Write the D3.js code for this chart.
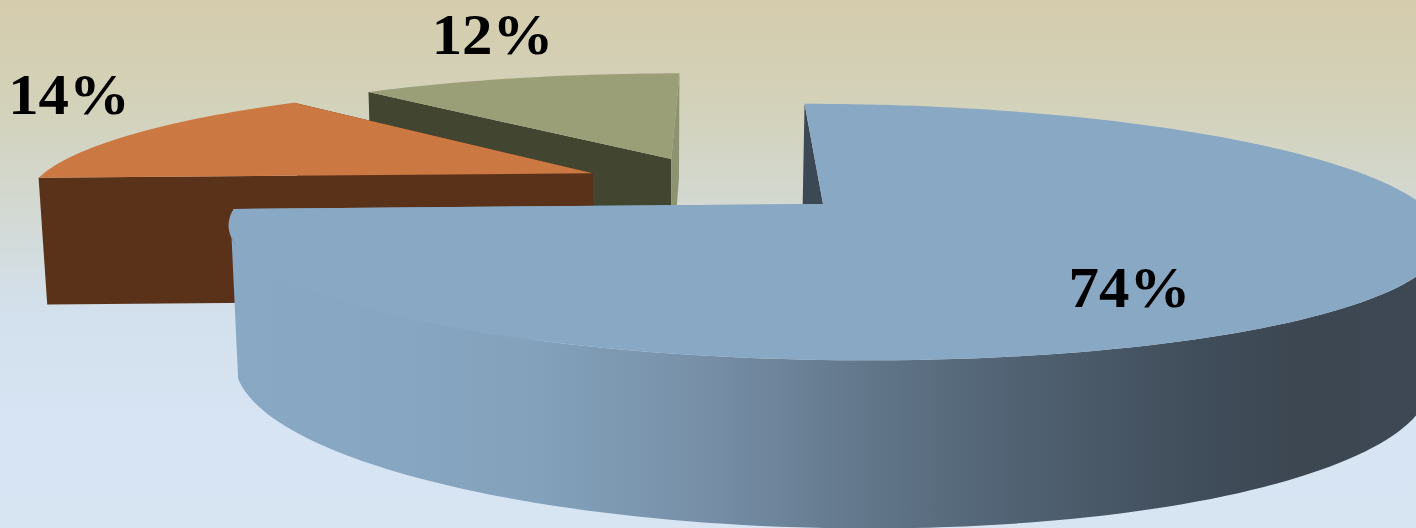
<!DOCTYPE html>
<html><head><meta charset="utf-8">
<style>html,body{margin:0;padding:0;background:#d6e4f3}svg{display:block}</style>
<script src="https://cdn.jsdelivr.net/npm/d3@7/dist/d3.min.js"></script>
</head><body><svg id="c" width="1416" height="528"></svg>
<script>
const sliceNames = ["Blue", "Orange", "Green"];
const sliceValues = [74.2, 14.3, 11.5];
const sliceLabels = ["74%", "14%", "12%"];
const topColors = ["#88a8c4", "#cc7842", "#9b9f78"];
const wallColors = ["#3d4855", "#5a3219", "#424530"];
const endWallColors = ["#88a8c4", "#5a3219", "#8d9270"];
const labelOffsets = [[0.39, -0.612], [-1.111, 0.92], [-0.371, 1.62]];

const W = 1416, H = 528;
// Perspective camera of the ground plane (unit pie radius)
const cam = {x0: 823, y0: 204, A: 590, k: 0.219, vx: 560, vy: -353, tilt: -6, m: 0.0155, zx: 640, zy: 9000};
const explode = 0.245;
const rotation = 3.4 * Math.PI / 180;

function project(X, Y, down) {
  const w = 1 + cam.k * Y;
  const nx = cam.x0 + cam.A * X + cam.k * cam.vx * Y;
  const ny = cam.y0 + cam.k * cam.vy * Y + cam.tilt * X;
  const m = down ? cam.m : 0;
  return [(nx + m * cam.zx) / (w + m), (ny + m * cam.zy) / (w + m)];
}

const arcs = d3.pie().sort(null).value(d => d).startAngle(rotation).endAngle(rotation + 2 * Math.PI)(sliceValues);
const mid = arcs.map(a => (a.startAngle + a.endAngle) / 2);
const dirs = mid.map(t => [Math.sin(t), Math.cos(t)]);
const centres = dirs.map(d => [(d[0] - dirs[0][0]) * explode, (d[1] - dirs[0][1]) * explode]);

const svg = d3.select("#c");
const defs = svg.append("defs");
const bg = defs.append("linearGradient").attr("id", "bg").attr("x1", 0).attr("y1", 0).attr("x2", 0).attr("y2", 1);
[[0, "#d5ccac"], [0.2, "#d3d2ba"], [0.4, "#d3d9d3"], [0.6, "#d3e1ee"], [0.8, "#d6e4f3"], [1, "#d7e5f3"]]
  .forEach(s => bg.append("stop").attr("offset", s[0]).attr("stop-color", s[1]));
const side = defs.append("linearGradient").attr("id", "side").attr("gradientUnits", "userSpaceOnUse")
  .attr("x1", 232).attr("y1", 0).attr("x2", 1416).attr("y2", 0);
[[232, "#88a8c4"], [400, "#87a6c1"], [540, "#83a1bb"], [700, "#7790a8"], [850, "#64798d"], [1000, "#526475"], [1200, "#404d5a"], [1300, "#3c4752"], [1416, "#3d4854"]]
  .forEach(s => side.append("stop").attr("offset", (s[0] - 232) / (1416 - 232)).attr("stop-color", s[1]));

svg.append("rect").attr("width", W).attr("height", H).attr("fill", "url(#bg)");

const line = d3.line();
const rimAngles = (a) => {
  const n = Math.max(8, Math.round((a.endAngle - a.startAngle) * 40));
  return d3.range(n + 1).map(i => a.startAngle + (a.endAngle - a.startAngle) * i / n);
};
const rim = (c, t, down) => project(c[0] + Math.sin(t), c[1] + Math.cos(t), down);
// widest points of the projected rim: the outer wall is seen only between them
const tRight = Math.acos(-cam.k), tLeft = 2 * Math.PI - tRight;

// painter's order: far slices first
[2, 1, 0].forEach(i => {
  const a = arcs[i], c = centres[i], g = svg.append("g").attr("class", sliceNames[i]);
  const ts = rimAngles(a);
  const apex = project(c[0], c[1], false), apexB = project(c[0], c[1], true);
  // radial wall at the start angle
  g.append("path").attr("fill", wallColors[i])
    .attr("d", line([apex, rim(c, a.startAngle, false), rim(c, a.startAngle, true), apexB]) + "Z");
  // radial wall at the end angle
  g.append("path").attr("fill", endWallColors[i])
    .attr("d", line([apex, rim(c, a.endAngle, false), rim(c, a.endAngle, true), apexB]) + "Z");
  // outer curved wall: only the camera-facing part
  const front = ts.filter(t => t >= tRight && t <= tLeft);
  if (front.length > 1) {
    const span = [tRight].concat(front, [Math.min(tLeft, a.endAngle)]);
    g.append("path").attr("fill", i === 0 ? "url(#side)" : wallColors[i])
      .attr("d", line(span.map(t => rim(c, t, false)).concat(span.slice().reverse().map(t => rim(c, t, true)))) + "Z");
  }
  // top face
  g.append("path").attr("fill", topColors[i])
    .attr("d", line([apex].concat(ts.map(t => rim(c, t, false)))) + "Z");
});

svg.selectAll("text.lbl").data(arcs).join("text").attr("class", "lbl")
  .attr("transform", (a, i) => {
    const p = project(centres[i][0] + labelOffsets[i][0], centres[i][1] + labelOffsets[i][1], false);
    return `translate(${p[0]},${p[1]}) scale(1.05,1)`;
  })
  .attr("text-anchor", "middle").attr("dy", "0.33em")
  .attr("font-family", "'Liberation Serif',serif").attr("font-weight", "bold").attr("font-size", 58)
  .attr("fill", "#000").text((a, i) => sliceLabels[i]);
</script></body></html>
